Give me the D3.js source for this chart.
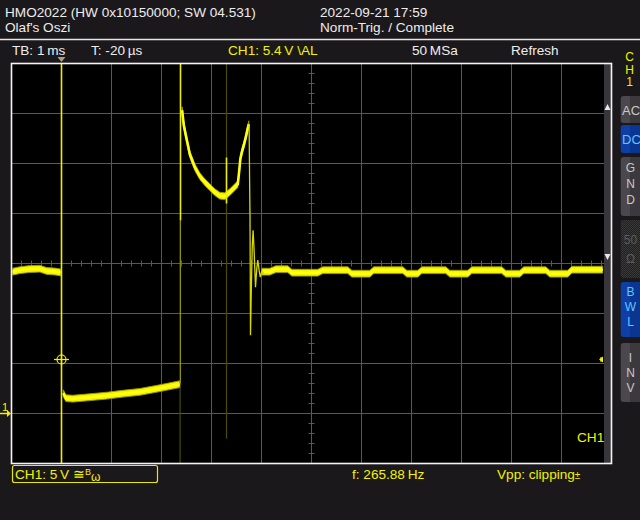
<!DOCTYPE html>
<html><head><meta charset="utf-8">
<script src="https://cdn.jsdelivr.net/npm/d3@7"></script>
<style>body{margin:0;background:#1b181b;} svg{display:block}</style>
</head><body>
<svg id="c" width="640" height="520"></svg>
<script>
// ---------------- data (time in ms, voltage in V) ----------------
const timeTicks = [-1,0,1,2,3,4,5,6,7,8,9,10,11];      // 1 ms / div
const voltTicks = [-5,0,5,10,15,20,25,30,35];           // 5 V / div

const preT  = [-1.0,-0.834,-0.634,-0.434,-0.294,-0.134,-0.014];
const preV  = [14.16,14.33,14.45,14.48,14.25,14.2,14.1];

const lowT  = [0.036,0.086,0.226,0.566,0.9,1.226,1.566,1.966,2.366];
const lowV  = [2.03,1.53,1.48,1.63,1.78,1.98,2.16,2.53,2.93];

const decayT = [2.412,2.446,2.486,2.566,2.666,2.766,2.866,2.966,3.066,3.166,3.266,3.366,3.466,3.526,3.556,3.576,3.606,3.646,3.686,3.726,3.746];
const decayV = [30.33,28.83,27.83,25.93,24.63,23.73,23.13,22.63,22.13,21.78,21.73,22.13,22.63,22.93,24.33,25.43,26.13,26.83,27.63,28.53,28.93];

const ringT = [3.752,3.762,3.77,3.78,3.796,3.816,3.832,3.852,3.88,3.906,3.926,3.952,3.976,4.006,4.046];
const ringV = [28.93,23.33,19.83,7.83,12.33,16.83,18.33,16.33,12.63,14.53,15.33,14.33,13.63,14.23,14.03];

const tailT = [4.006,4.166,4.286,4.526,4.606,5.126,5.226,5.726,5.806,6.166,6.246,6.826,6.906,7.126,7.206,7.686,7.766,8.126,8.206,8.806,8.886,9.166,9.246,9.686,9.766,10.126,10.206,10.826];
const tailV = [14.18,14.18,14.43,14.43,14.08,14.08,14.33,14.33,13.98,13.98,14.33,14.33,13.98,13.98,14.33,14.33,13.98,13.98,14.33,14.33,13.98,13.98,14.33,14.33,13.98,13.98,14.38,14.38];

// vertical edges: time, from-voltage, to-voltage
const brightEdges = [[0,35,-5],[2.38,35,19.3],[3.3,25.6,21]];
const midEdges    = [[2.376,19.3,3]];
const dimEdges    = [[2.372,3,-5],[3.3,35,-2.5]];

const triggerLevel = 5.4;

const headerLines = ["HMO2022 (HW 0x10150000; SW 04.531)","Olaf's Oszi"];
const headerRight = ["2022-09-21 17:59","Norm-Trig. / Complete"];

// ---------------- drawing ----------------
const svg = d3.select('#c');
const FONT = "'Liberation Sans', Arial, sans-serif";
const YEL = '#f2f200';

svg.append('rect').attr('width',640).attr('height',520).attr('fill','#1b181b');

const x = d3.scaleLinear().domain([-1,11]).range([11.5,611.5]);
const y = d3.scaleLinear().domain([-5,35]).range([463.5,63.5]);

// header
headerLines.forEach((t,i)=>svg.append('text').attr('x',5).attr('y',17+i*15).text(t)
  .attr('fill','#ededed').attr('font-family',FONT).attr('font-size',13.6));
headerRight.forEach((t,i)=>svg.append('text').attr('x',320).attr('y',17+i*15).text(t)
  .attr('fill','#ededed').attr('font-family',FONT).attr('font-size',13.6));
svg.append('line').attr('x1',0).attr('x2',640).attr('y1',39.5).attr('y2',39.5)
  .attr('stroke','#e6e6e6').attr('stroke-width',1.5);

const row2 = [["TB: 1\u2009ms",12,'#ededed'],["T: -20\u2009\u00b5s",91,'#ededed'],
  ["CH1: 5.4\u2009V \\AL",228,YEL],["50\u2009MSa",412,'#ededed'],["Refresh",511,'#ededed']];
row2.forEach(r=>svg.append('text').attr('x',r[1]).attr('y',55).text(r[0])
  .attr('fill',r[2]).attr('font-family',FONT).attr('font-size',13.6));

// plot area
svg.append('rect').attr('x',x(-1)).attr('y',y(35)).attr('width',x(11)-x(-1)).attr('height',y(-5)-y(35)).attr('fill','#000');

const grid = svg.append('g').attr('stroke','#585858').attr('stroke-width',1);
timeTicks.slice(1,-1).forEach(t=>grid.append('line').attr('x1',x(t)).attr('x2',x(t)).attr('y1',y(35)).attr('y2',y(-5)));
voltTicks.slice(1,-1).forEach(v=>grid.append('line').attr('y1',y(v)).attr('y2',y(v)).attr('x1',x(-1)).attr('x2',x(11)));
// minor ticks on centre lines
d3.range(-1,11.01,0.2).forEach(t=>grid.append('line').attr('x1',x(t)).attr('x2',x(t)).attr('y1',y(15)-3).attr('y2',y(15)+3));
d3.range(-5,35.01,1).forEach(v=>grid.append('line').attr('y1',y(v)).attr('y2',y(v)).attr('x1',x(5)-3).attr('x2',x(5)+3));

// trace layer (clipped)
svg.append('clipPath').attr('id','pc').append('rect').attr('x',x(-1)+1).attr('y',y(35)+0.5).attr('width',x(11)-x(-1)-9).attr('height',y(-5)-y(35)-1);
const tr = svg.append('g').attr('clip-path','url(#pc)');

const edge = (arr,col,w)=>arr.forEach(e=>tr.append('line').attr('x1',x(e[0])).attr('x2',x(e[0]))
  .attr('y1',y(e[1])).attr('y2',y(e[2])).attr('stroke',col).attr('stroke-width',w));
edge(dimEdges,'#4a4a00',1.2);
edge(midEdges,'#a0a000',1.2);

const zip = (T,V)=>T.map((t,i)=>[t,V[i]]);
const band = d3.area().x(d=>x(d[0])).y0(d=>y(d[1])-3.4).y1(d=>y(d[1])+3.4);
const ln = d3.line().x(d=>x(d[0])).y(d=>y(d[1]));
[zip(preT,preV),zip(lowT,lowV),zip(decayT,decayV),zip(tailT,tailV)].forEach(s=>{
  tr.append('path').attr('d',band(s)).attr('fill','#f4f400').attr('stroke','#9a9a00').attr('stroke-width',0.9);
  tr.append('path').attr('d',ln(s)).attr('fill','none').attr('stroke','#ffff10').attr('stroke-width',2.6);
});
tr.append('path').attr('d',ln(zip(ringT,ringV))).attr('fill','none').attr('stroke','#d8d800').attr('stroke-width',1.3);
edge(brightEdges,'#eeee00',1.6);

// right strip
svg.append('rect').attr('x',604).attr('y',y(35)+0.5).attr('width',7).attr('height',y(-5)-y(35)-1).attr('fill','#38363a');
svg.append('path').attr('d','M604.5,110 L607.5,104 L610.5,110 Z').attr('fill','#e8e8e8');
svg.append('path').attr('d','M604.5,254 L610.5,254 L607.5,260 Z').attr('fill','#e8e8e8');

// border
svg.append('rect').attr('x',x(-1)).attr('y',y(35)).attr('width',x(11)-x(-1)).attr('height',y(-5)-y(35))
  .attr('fill','none').attr('stroke','#f4f4f4').attr('stroke-width',1.6);

// trigger markers
svg.append('path').attr('d',`M${x(0)-4},57 L${x(0)+4},57 L${x(0)},62 Z`).attr('fill','#a7a27a');
const ty = y(triggerLevel);
const cr = svg.append('g').attr('stroke',YEL).attr('fill','none').attr('stroke-width',1.2);
cr.append('circle').attr('cx',x(0)).attr('cy',ty).attr('r',4.5);
cr.append('line').attr('x1',x(0)-7.5).attr('x2',x(0)+7.5).attr('y1',ty).attr('y2',ty);
cr.append('line').attr('x1',x(0)).attr('x2',x(0)).attr('y1',ty-6.5).attr('y2',ty+6.5);
svg.append('path').attr('d',`M599,${ty} L603,${ty-3} L603,${ty+3} Z`).attr('fill',YEL);
svg.append('line').attr('x1',601).attr('x2',601).attr('y1',ty-2.5).attr('y2',ty+2.5).attr('stroke',YEL);

// ground marker
svg.append('text').attr('x',2).attr('y',411).text('1').attr('fill',YEL).attr('font-family',FONT).attr('font-size',11);
svg.append('line').attr('x1',0).attr('x2',8).attr('y1',y(0)).attr('y2',y(0)).attr('stroke',YEL).attr('stroke-width',1.5);
svg.append('path').attr('d',`M7,${y(0)-3.5} L11,${y(0)} L7,${y(0)+3.5} Z`).attr('fill',YEL);

// CH1 label on the right
svg.append('text').attr('x',577).attr('y',442).text('CH1').attr('fill',YEL).attr('font-family',FONT).attr('font-size',13.6);

// bottom bar
svg.append('rect').attr('x',12.5).attr('y',465.5).attr('width',145).attr('height',17).attr('rx',2)
  .attr('fill','none').attr('stroke','#e8e800').attr('stroke-width',1.2);
const bt = svg.append('text').attr('x',15).attr('y',479).attr('fill',YEL).attr('font-family',FONT).attr('font-size',13.6);
bt.append('tspan').text('CH1: 5\u2009V ');
bt.append('tspan').text('\u2245');
bt.append('tspan').attr('font-size',9).attr('dy',-4).text('B');
bt.append('tspan').attr('font-size',12).attr('dy',6).text('\u03c9');
svg.append('text').attr('x',352).attr('y',479).text('f: 265.88\u2009Hz').attr('fill',YEL).attr('font-family',FONT).attr('font-size',13.6);
const vp = svg.append('text').attr('x',497).attr('y',479).attr('fill',YEL).attr('font-family',FONT).attr('font-size',13.6);
vp.append('tspan').text('Vpp: clipping');
vp.append('tspan').attr('font-size',10).text('\u00b1');

// right side panel
['C','H','1'].forEach((c,i)=>svg.append('text').attr('x',629.5).attr('y',61+i*12.5).attr('text-anchor','middle')
  .text(c).attr('fill',YEL).attr('font-family',FONT).attr('font-size',12));

const defs = svg.append('defs');
const pat = defs.append('pattern').attr('id','hatch').attr('width',2).attr('height',2).attr('patternUnits','userSpaceOnUse');
pat.append('rect').attr('width',2).attr('height',2).attr('fill','#1f1f1f');
pat.append('rect').attr('width',1).attr('height',1).attr('fill','#3a3a3a');
pat.append('rect').attr('x',1).attr('y',1).attr('width',1).attr('height',1).attr('fill','#3a3a3a');

const buttons = [
  {y0:96,y1:123,kind:'gray',labels:[['AC',115]],big:true},
  {y0:125,y1:153,kind:'blue',labels:[['DC',144]],big:true},
  {y0:157,y1:216,kind:'gray',labels:[['G',172],['N',188],['D',204]]},
  {y0:220,y1:278,kind:'hatch',labels:[['50',244],['\u03a9',263]]},
  {y0:282,y1:337,kind:'blue',labels:[['B',296],['W',310.5],['L',325.5]]},
  {y0:343,y1:402,kind:'gray',labels:[['I',362],['N',377],['V',392]]}
];
buttons.forEach(b=>{
  const fillL = b.kind==='blue'?'#0e3fa6':b.kind==='gray'?'#4a484c':'url(#hatch)';
  const fillR = b.kind==='blue'?'#0a3590':b.kind==='gray'?'#3b393d':'url(#hatch)';
  svg.append('rect').attr('x',620.7).attr('y',b.y0).attr('width',30).attr('height',b.y1-b.y0).attr('rx',3).attr('fill',fillL);
  svg.append('rect').attr('x',630).attr('y',b.y0).attr('width',15).attr('height',b.y1-b.y0).attr('fill',fillR);
  const col = b.kind==='blue'?'#62c4ff':b.kind==='gray'?'#c8c8c8':'#5c5c5c';
  b.labels.forEach(l=>svg.append('text').attr('x',b.big?622:630.5).attr('y',l[1]).attr('text-anchor',b.big?'start':'middle')
    .text(l[0]).attr('fill',col).attr('font-family',FONT).attr('font-size',b.big?13:12));
});
</script>
</body></html>
